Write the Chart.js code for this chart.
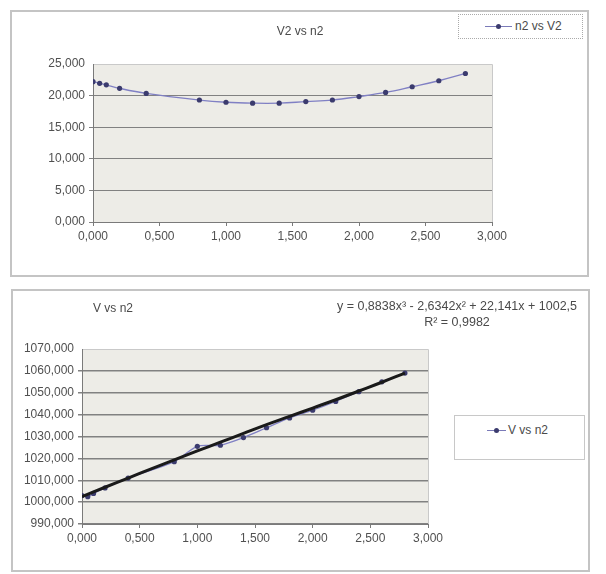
<!DOCTYPE html>
<html><head><meta charset="utf-8">
<script src="https://cdn.jsdelivr.net/npm/chart.js@4"></script>
<style>
html,body{margin:0;padding:0;background:#fff}
body{width:606px;height:574px;position:relative;overflow:hidden;font-family:"Liberation Sans",Arial,sans-serif;color:#4a4a4a}
.frame{position:absolute;border:2px solid #c4c4c4;box-sizing:border-box}
canvas{position:absolute}
.txt{position:absolute;font-size:12px;white-space:nowrap;color:#4a4a4a;line-height:14px}
.lg{position:absolute;border:1px solid #c8c8c8;box-sizing:border-box;background:#fff}
.ln{position:absolute;height:1px;background:#7a7ab8}
.dot{position:absolute;width:5px;height:5px;border-radius:50%;background:#3b3b6e}
</style></head>
<body>
<div class="frame" style="left:10px;top:10px;width:579px;height:267px"></div>
<div class="frame" style="left:11px;top:289px;width:579px;height:283px"></div>

<canvas id="c1" width="578" height="266" style="left:10px;top:10px"></canvas>
<canvas id="c2" width="578" height="282" style="left:11px;top:289px"></canvas>

<div class="txt" style="left:250px;top:24px;width:100px;text-align:center;font-size:12px">V2 vs n2</div>
<div class="lg" style="left:458px;top:14px;width:125px;height:25px;border-style:dotted;border-color:#aaa"></div>
<div class="ln" style="left:485px;top:26px;width:27px"></div>
<div class="dot" style="left:496px;top:24px"></div>
<div class="txt" style="left:515px;top:19px">n2 vs V2</div>

<div class="txt" style="left:93px;top:301px">V vs n2</div>
<div class="txt" style="left:312px;top:299px;width:290px;text-align:center;font-size:12.5px">y = 0,8838x³ - 2,6342x² + 22,141x + 1002,5</div>
<div class="txt" style="left:312px;top:315px;width:290px;text-align:center;font-size:12.5px">R² = 0,9982</div>
<div class="lg" style="left:454px;top:415px;width:131px;height:45px"></div>
<div class="ln" style="left:487px;top:430px;width:19px"></div>
<div class="dot" style="left:494px;top:428px"></div>
<div class="txt" style="left:508px;top:423px">V vs n2</div>

<script>
// ---- data ----
const n2 = [0, 0.05, 0.1, 0.2, 0.4, 0.8, 1.0, 1.2, 1.4, 1.6, 1.8, 2.0, 2.2, 2.4, 2.6, 2.8];
const V2 = [22.2, 21.95, 21.7, 21.15, 20.35, 19.3, 18.95, 18.8, 18.8, 19.05, 19.3, 19.85, 20.5, 21.4, 22.35, 23.5];
const V  = [1003, 1002.5, 1004, 1006.5, 1011, 1018.5, 1025.5, 1026, 1029.5, 1034, 1038.5, 1042, 1046, 1050.5, 1055, 1059];
// polynomial trendline as drawn in the picture
const trendX = [0, 0.2, 0.4, 0.6, 0.8, 1.0, 1.2, 1.4, 1.6, 1.8, 2.0, 2.2, 2.4, 2.6, 2.8];
const trendY = [1002.5, 1006.8, 1011.0, 1015.2, 1019.3, 1023.4, 1027.4, 1031.4, 1035.4, 1039.2, 1043.0, 1046.8, 1050.8, 1054.8, 1059.0];
const xTicks = [0, 0.5, 1, 1.5, 2, 2.5, 3];
const y1Ticks = [0, 5, 10, 15, 20, 25];
const y2Ticks = [990, 1000, 1010, 1020, 1030, 1040, 1050, 1060, 1070];

const fmt = v => Number(v).toFixed(3).replace('.', ',');
const FONT = {family: '"Liberation Sans", Arial, sans-serif', size: 12};
const TXT = '#505050';

const plotBg = {
  id: 'plotBg',
  beforeDraw(chart) {
    const a = chart.chartArea, ctx = chart.ctx;
    ctx.save();
    ctx.fillStyle = '#edece7';
    ctx.fillRect(a.left, a.top, a.right - a.left, a.bottom - a.top);
    ctx.strokeStyle = '#c9c9c9';
    ctx.lineWidth = 1;
    ctx.beginPath();
    ctx.moveTo(a.left, a.top + 0.5); ctx.lineTo(a.right + 0.5, a.top + 0.5); ctx.lineTo(a.right + 0.5, a.bottom);
    ctx.stroke();
    ctx.restore();
  }
};

function makeOpts(cfg) {
  return {
    responsive: false,
    animation: false,
    devicePixelRatio: 1,
    layout: {padding: {left: 0, top: cfg.top, right: cfg.right, bottom: 0}},
    plugins: {legend: {display: false}, title: {display: false}, tooltip: {enabled: false}},
    scales: {
      x: {
        type: 'linear', min: 0, max: 3,
        afterBuildTicks: s => { s.ticks = xTicks.map(v => ({value: v})); },
        afterFit: s => { s.height = cfg.xh; },
        ticks: {callback: fmt, font: FONT, color: TXT, padding: 3, maxRotation: 0},
        grid: {drawOnChartArea: false, drawTicks: true, tickLength: 4, color: '#7a7a7a'},
        border: {color: '#7a7a7a', width: 1}
      },
      y: {
        min: cfg.ymin, max: cfg.ymax,
        afterBuildTicks: s => { s.ticks = cfg.yticks.map(v => ({value: v})); },
        afterFit: s => { s.width = cfg.yw; },
        ticks: {callback: fmt, font: FONT, color: TXT, padding: 4},
        grid: {
          color: ctx => (ctx.tick && ctx.tick.value === cfg.ymax) ? 'rgba(0,0,0,0)' : '#818181',
          lineWidth: cfg.gw, tickLength: 4, drawTicks: true
        },
        border: {color: '#7a7a7a', width: 1}
      }
    }
  };
}

new Chart(document.getElementById('c1'), {
  type: 'line',
  data: {
    datasets: [{
      label: 'n2 vs V2',
      data: n2.map((x, i) => ({x: x, y: V2[i]})),
      borderColor: '#8080c4', borderWidth: 1.3,
      pointRadius: 2.6, pointBackgroundColor: '#3b3b6e', pointBorderColor: '#3b3b6e', pointBorderWidth: 0,
      tension: 0.4, fill: false
    }]
  },
  options: makeOpts({top: 54, right: 96, xh: 54, yw: 83, ymin: 0, ymax: 25, yticks: y1Ticks, gw: 1}),
  plugins: [plotBg]
});

new Chart(document.getElementById('c2'), {
  type: 'line',
  data: {
    datasets: [{
      label: 'Trend',
      data: trendX.map((x, i) => ({x: x, y: trendY[i]})),
      borderColor: '#1a1a1a', borderWidth: 3, pointRadius: 0, tension: 0.4, fill: false
    }, {
      label: 'V vs n2',
      data: n2.map((x, i) => ({x: x, y: V[i]})),
      borderColor: '#8080c4', borderWidth: 1.3,
      pointRadius: 2.6, pointBackgroundColor: '#3b3b6e', pointBorderColor: '#3b3b6e', pointBorderWidth: 0,
      tension: 0.3, fill: false
    }]
  },
  options: makeOpts({top: 60, right: 161, xh: 47, yw: 71, ymin: 990, ymax: 1070, yticks: y2Ticks, gw: 1.5}),
  plugins: [plotBg]
});
</script>
</body></html>
